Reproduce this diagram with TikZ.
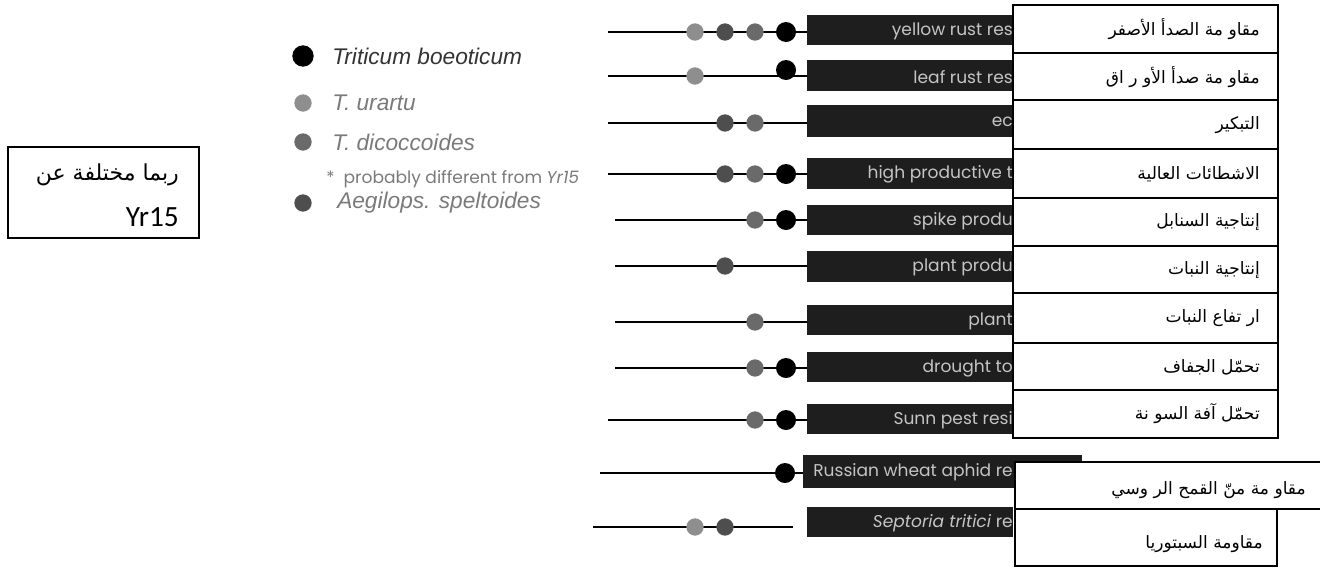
\documentclass[tikz,border=0pt]{standalone}
\usepackage{fontspec}
\setmainfont{Liberation Sans}
\newfontfamily\arabicfont[Script=Arabic]{DejaVu Sans}
\newfontfamily\barfont{Poppins}
\newfontfamily\calfont{Carlito}
\TeXXeTstate=1
\definecolor{barc}{HTML}{1E1E1E}
\definecolor{bartxt}{HTML}{C4C4C4}
\definecolor{ucol}{HTML}{8E8E8E}
\definecolor{dcol}{HTML}{6A6A6A}
\definecolor{scol}{HTML}{4E4E4E}
\definecolor{legtxt}{HTML}{7A7A7A}
\newcommand\mkrect[6]{\node[#1, minimum width={(#4-#2)*0.75pt}, minimum height={(#5-#3)*0.75pt}] (#6) at ({(#2+#4)/2},{(#3+#5)/2}) {};}
\begin{document}
\begin{tikzpicture}[x=0.75pt,y=-0.75pt,
  barbox/.style={rectangle, fill=barc, draw=none, inner sep=0pt, outer sep=0pt},
  tabbox/.style={rectangle, fill=white, draw=black, line width=0.8pt, inner sep=0pt, outer sep=0pt},
  bartext/.style={anchor=east, inner sep=0pt, text=bartxt, font=\barfont\fontsize{12.8pt}{14pt}\selectfont},
  artext/.style={anchor=east, inner sep=0pt, font=\arabicfont\fontsize{12.8pt}{14pt}\selectfont},
  conn/.style={draw=black, line width=1pt},
  gdot/.style={circle, inner sep=0pt, minimum size=13pt, draw=none},
  bdot/.style={circle, inner sep=0pt, minimum size=15pt, fill=black, draw=none},
  legtext/.style={anchor=west, inner sep=0pt, text=legtxt, font=\itshape\fontsize{17pt}{20pt}\selectfont}]
\useasboundingbox (0,0) rectangle (1320,568);

% ---------- legend ----------
\node[circle, inner sep=0pt, minimum size=16pt, fill=black] (lgb) at (303,56) {};
\node[gdot, fill=ucol] (lgu) at (303,103) {};
\node[gdot, fill=dcol] (lgd) at (303,142) {};
\node[gdot, fill=scol] (lgs) at (303,203) {};
\node[legtext, text=black!80] (ltb) at (332,56) {Triticum boeoticum};
\node[legtext] (ltu) at (332,103) {T. urartu};
\node[legtext] (ltd) at (332,142) {T. dicoccoides};
\node[legtext] (lts) at (337,203) {Aegilops. speltoides};
\node[anchor=west, inner sep=0pt, text=legtxt, font=\barfont\fontsize{12.8pt}{14pt}\selectfont] (lstar) at (326,179) {*\ \ probably different from \textit{Yr15}};

% ---------- left note box ----------
\mkrect{tabbox}{8}{147}{199}{238}{note}
\node[anchor=east, inner sep=0pt, font=\arabicfont\fontsize{16.5pt}{18pt}\selectfont] (notea) at (179,175) {\beginR ربما مختلفة عن\endR};
\node[anchor=east, inner sep=0pt, font=\calfont\fontsize{22pt}{24pt}\selectfont] (noteb) at (179,217) {Yr15};

% ---------- line start coordinates ----------
\coordinate (s1) at (608,32);
\coordinate (s2) at (608,76);
\coordinate (s3) at (608,123);
\coordinate (s4) at (608,174);
\coordinate (s5) at (615,220);
\coordinate (s6) at (615,266);
\coordinate (s7) at (615,322);
\coordinate (s8) at (615,368);
\coordinate (s9) at (608,420);
\coordinate (s10) at (600,473);
\coordinate (s11) at (593,527);
\coordinate (e11) at (793,527);

% ---------- bars ----------
\mkrect{barbox}{807}{15}{1013}{45}{r1}
\mkrect{barbox}{807}{60}{1013}{91}{r2}
\mkrect{barbox}{807}{105}{1013}{137}{r3}
\mkrect{barbox}{807}{158}{1013}{189}{r4}
\mkrect{barbox}{807}{205}{1013}{235}{r5}
\mkrect{barbox}{807}{251}{1013}{282}{r6}
\mkrect{barbox}{807}{305}{1013}{335}{r7}
\mkrect{barbox}{807}{352}{1013}{382}{r8}
\mkrect{barbox}{807}{404}{1013}{434}{r9}
\mkrect{barbox}{803}{455}{1082}{488}{r10}
\mkrect{barbox}{807}{507}{1013}{537}{r11}

% ---------- connectors ----------
\draw[conn] (s1) -- (r1.west |- s1);
\draw[conn] (s2) -- (r2.west |- s2);
\draw[conn] (s3) -- (r3.west |- s3);
\draw[conn] (s4) -- (r4.west |- s4);
\draw[conn] (s5) -- (r5.west |- s5);
\draw[conn] (s6) -- (r6.west |- s6);
\draw[conn] (s7) -- (r7.west |- s7);
\draw[conn] (s8) -- (r8.west |- s8);
\draw[conn] (s9) -- (r9.west |- s9);
\draw[conn] (s10) -- (r10.west |- s10);
\draw[conn] (s11) -- (e11);

% ---------- bar labels ----------
\node[bartext] (l1) at (1013,31) {yellow rust res};
\node[bartext] (l2) at (1013,77) {leaf rust res};
\node[bartext] (l3) at (1013,122) {ec};
\node[bartext] (l4) at (1013,174) {high productive t};
\node[bartext] (l5) at (1013,221) {spike produ};
\node[bartext] (l6) at (1013,267) {plant produ};
\node[bartext] (l7) at (1013,321) {plant};
\node[bartext] (l8) at (1013,368) {drought to};
\node[bartext] (l9) at (1013,420) {Sunn pest resi};
\node[bartext] (l10) at (1013,472) {Russian wheat aphid re};
\node[bartext] (l11) at (1013,523) {\textit{Septoria tritici} re};

% ---------- table boxes ----------
\mkrect{tabbox}{1013}{5}{1278}{53}{b1}
\mkrect{tabbox}{1013}{53}{1278}{100}{b2}
\mkrect{tabbox}{1013}{100}{1278}{149}{b3}
\mkrect{tabbox}{1013}{149}{1278}{198}{b4}
\mkrect{tabbox}{1013}{198}{1278}{246}{b5}
\mkrect{tabbox}{1013}{246}{1278}{293}{b6}
\mkrect{tabbox}{1013}{293}{1278}{343}{b7}
\mkrect{tabbox}{1013}{343}{1278}{390}{b8}
\mkrect{tabbox}{1013}{390}{1278}{438}{b9}
\mkrect{tabbox}{1015}{462}{1340}{509}{b10}
\mkrect{tabbox}{1015}{509}{1277}{566}{b11}

\node[artext] (a1) at (1260,29) {\beginR مقاو مة الصدأ الأصفر\endR};
\node[artext] (a2) at (1260,77) {\beginR مقاو مة صدأ الأو ر اق\endR};
\node[artext] (a3) at (1260,125) {\beginR التبكير\endR};
\node[artext] (a4) at (1260,174) {\beginR الاشطائات العالية\endR};
\node[artext] (a5) at (1260,222) {\beginR إنتاجية السنابل\endR};
\node[artext] (a6) at (1260,270) {\beginR إنتاجية النبات\endR};
\node[artext] (a7) at (1260,318) {\beginR ار تفاع النبات\endR};
\node[artext] (a8) at (1260,367) {\beginR تحمّل الجفاف\endR};
\node[artext] (a9) at (1260,414) {\beginR تحمّل آفة السو نة\endR};
\node[artext] (a10) at (1306,490) {\beginR مقاو مة منّ القمح الر وسي\endR};
\node[artext] (a11) at (1263,544) {\beginR مقاومة السبتوريا\endR};

% ---------- dots ----------
\node[gdot, fill=ucol] (d1u) at (695,32) {};
\node[gdot, fill=scol] (d1s) at (725,32) {};
\node[gdot, fill=dcol] (d1d) at (755,32) {};
\node[bdot] (d1b) at (786,32) {};
\node[gdot, fill=ucol] (d2u) at (695,76) {};
\node[bdot] (d2b) at (786,70) {};
\node[gdot, fill=scol] (d3s) at (725,123) {};
\node[gdot, fill=dcol] (d3d) at (755,123) {};
\node[gdot, fill=scol] (d4s) at (725,174) {};
\node[gdot, fill=dcol] (d4d) at (755,174) {};
\node[bdot] (d4b) at (786,174) {};
\node[gdot, fill=dcol] (d5d) at (755,220) {};
\node[bdot] (d5b) at (786,220) {};
\node[gdot, fill=scol] (d6s) at (725,266) {};
\node[gdot, fill=dcol] (d7d) at (755,322) {};
\node[gdot, fill=dcol] (d8d) at (755,368) {};
\node[bdot] (d8b) at (786,368) {};
\node[gdot, fill=dcol] (d9d) at (755,420) {};
\node[bdot] (d9b) at (786,420) {};
\node[bdot] (d10b) at (785,473) {};
\node[gdot, fill=ucol] (d11u) at (695,527) {};
\node[gdot, fill=scol] (d11s) at (725,527) {};
\end{tikzpicture}
\end{document}
